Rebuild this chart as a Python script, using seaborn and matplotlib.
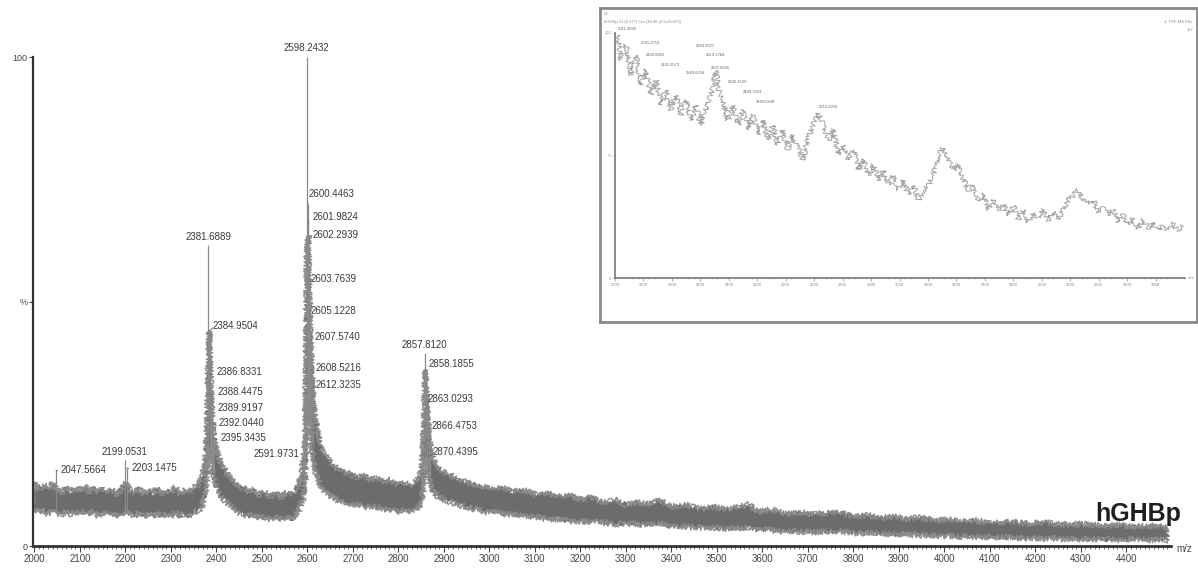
import numpy as np
import pandas as pd
import matplotlib
matplotlib.use("Agg")
import matplotlib.pyplot as plt
import seaborn as sns
from matplotlib.ticker import MultipleLocator

# ---------------- data ----------------
band_mz = [2000, 2010, 2020, 2030, 2040, 2050, 2060, 2070, 2080, 2090, 2100, 2110, 2120, 2130,
           2140, 2150, 2160, 2170, 2180, 2190, 2200, 2210, 2220, 2230, 2240, 2250, 2260, 2270,
           2280, 2290, 2300, 2310, 2320, 2330, 2340, 2350, 2360, 2368, 2374, 2378, 2381, 2384,
           2387, 2390, 2394, 2398, 2404, 2412, 2422, 2434, 2446, 2458, 2470, 2482, 2494, 2506,
           2518, 2530, 2542, 2554, 2566, 2574, 2582, 2588, 2593, 2596, 2599, 2602, 2604, 2606,
           2609, 2612, 2616, 2621, 2628, 2636, 2646, 2658, 2670, 2684, 2698, 2712, 2726, 2740,
           2754, 2768, 2782, 2796, 2810, 2824, 2836, 2846, 2852, 2856, 2859, 2863, 2867, 2871,
           2878, 2888, 2900, 2915, 2930, 2950, 2970, 2990, 3010, 3030, 3050, 3075, 3100, 3125,
           3150, 3175, 3200, 3225, 3250, 3275, 3300, 3325, 3350, 3375, 3400, 3430, 3460, 3490,
           3520, 3550, 3570, 3590, 3620, 3650, 3680, 3710, 3740, 3770, 3800, 3830, 3860, 3890,
           3920, 3950, 3980, 4010, 4040, 4070, 4100, 4140, 4180, 4220, 4260, 4300, 4340, 4380,
           4420, 4460, 4490]
band_hi = [13.0, 11.5, 12.5, 11.5, 13.0, 11.5, 11.0, 12.0, 11.0, 12.0, 11.0, 12.5, 11.0, 12.0,
           11.0, 12.0, 11.0, 11.5, 10.5, 11.5, 13.0, 11.5, 11.0, 12.0, 10.5, 11.5, 10.5, 12.0,
           10.5, 11.5, 11.0, 12.0, 10.5, 11.5, 11.0, 12.0, 12.5, 14.0, 17.0, 22.0, 30.0, 44.0,
           35.0, 28.0, 23.0, 20.5, 18.5, 16.5, 15.0, 13.5, 12.5, 12.0, 11.0, 11.5, 10.5, 11.0,
           10.0, 11.0, 10.0, 11.0, 10.5, 11.5, 13.0, 15.5, 19.0, 26.0, 60.0, 63.5, 52.0, 45.0,
           37.0, 32.0, 27.0, 24.0, 21.0, 19.0, 17.5, 16.5, 15.5, 15.0, 14.5, 14.0, 14.5, 13.5,
           14.0, 13.0, 13.5, 12.5, 13.0, 12.5, 13.0, 14.0, 17.0, 24.0, 36.0, 29.0, 24.0, 19.5,
           17.5, 16.0, 15.0, 14.5, 13.5, 13.0, 12.5, 12.0, 11.5, 12.0, 11.0, 11.5, 10.5, 11.0,
           10.0, 10.5, 9.5, 10.0, 9.0, 9.5, 8.5, 9.0, 8.5, 9.5, 8.0, 8.5, 7.5, 8.0,
           7.5, 8.0, 8.5, 7.0, 7.5, 6.5, 7.0, 6.5, 6.8, 7.0, 6.0, 6.3, 5.8, 6.0,
           5.5, 5.8, 5.2, 5.4, 5.0, 5.2, 4.8, 5.0, 4.6, 4.8, 4.4, 4.5, 4.2, 4.3,
           4.0, 4.1, 3.8]
band_lo = [7.5, 7.0, 7.5, 6.5, 7.5, 6.5, 6.5, 7.0, 6.5, 7.0, 6.5, 7.0, 6.5, 7.0,
           6.0, 7.0, 6.5, 7.0, 6.0, 6.5, 7.0, 6.5, 6.0, 7.0, 6.0, 6.5, 6.0, 7.0,
           6.0, 6.5, 6.0, 7.0, 6.0, 6.5, 6.0, 7.0, 7.0, 8.0, 10.0, 12.0, 16.0, 20.0,
           18.0, 16.0, 14.0, 12.5, 11.0, 10.0, 9.0, 8.0, 7.0, 6.5, 6.0, 6.5, 5.5, 6.0,
           5.5, 6.0, 5.5, 6.0, 5.5, 6.5, 7.5, 9.0, 11.0, 14.0, 28.0, 30.0, 27.0, 24.0,
           20.0, 18.0, 16.0, 14.0, 12.5, 11.5, 10.5, 10.0, 9.0, 9.0, 8.5, 8.5, 8.0, 8.0,
           8.0, 7.5, 7.5, 7.0, 7.5, 7.0, 7.5, 8.0, 9.5, 12.0, 18.0, 16.0, 14.0, 12.0,
           11.0, 10.0, 9.5, 9.0, 8.5, 8.0, 7.5, 7.0, 7.0, 6.5, 6.5, 6.0, 6.0, 5.5,
           5.5, 5.0, 5.0, 5.0, 4.8, 4.5, 4.5, 4.5, 4.3, 4.5, 4.0, 4.0, 3.8, 3.8,
           3.5, 3.6, 3.8, 3.3, 3.3, 3.0, 3.0, 2.9, 2.9, 3.0, 2.7, 2.6, 2.5, 2.4,
           2.3, 2.2, 2.1, 2.0, 1.9, 1.9, 1.8, 1.7, 1.6, 1.6, 1.5, 1.4, 1.4, 1.3,
           1.3, 1.2, 1.2]

peak_mz = [2047.5664, 2199.0531, 2203.1475, 2381.6889, 2384.9504, 2386.8331, 2388.4475,
           2389.9197, 2392.0440, 2395.3435, 2591.9731, 2598.2432, 2600.4463, 2601.9824,
           2602.2939, 2603.7639, 2605.1228, 2607.5740, 2608.5216, 2612.3235, 2857.8120,
           2858.1855, 2863.0293, 2866.4753, 2870.4395]
peak_int = [15.5, 17.5, 16.0, 61.5, 44.0, 35.0, 31.0, 28.0, 25.0, 22.0, 17.5, 100.0, 70.0,
            66.0, 62.5, 54.0, 47.5, 42.0, 36.0, 32.5, 39.5, 36.0, 29.0, 24.0, 18.5]
peak_lab = [f"{m:.4f}" for m in peak_mz]

# label layout: kind ('t' centred above, 'r' right of stick, 'l' left of stick) and pixel offsets
label_kind = ['r', 't', 'r', 't', 'r', 'r', 'r', 'r', 'r', 'r', 'l', 't', 'r', 'r',
              'r', 'r', 'r', 'r', 'r', 'r', 't', 'r', 'r', 'r', 'r']
label_off = [(5, 0), (0, 3), (5, 0), (0, 3), (3, 5), (6, 3), (6, 2), (6, 1), (6, 1), (6, 0),
             (-4, 6), (0, 4), (1, 10), (4, 6), (4, 5), (1, 3), (1, 3), (4, 4), (4, 2), (3, 2),
             (0, 3), (4, 6), (1, 5), (3, 3), (2, 4)]

main_xticks = list(range(2000, 4401, 100))

# inset spectrum (zoomed trace)
inset_mz = [2011, 2021, 2039, 2056, 2074, 2091, 2109, 2126, 2144, 2161, 2179, 2196, 2214, 2232,
            2249, 2267, 2284, 2302, 2319, 2337, 2354, 2365, 2379, 2396, 2414, 2432, 2449, 2467,
            2484, 2502, 2519, 2537, 2554, 2572, 2589, 2607, 2625, 2642, 2660, 2677, 2695, 2716,
            2733, 2751, 2768, 2786, 2804, 2821, 2839, 2856, 2874, 2891, 2909, 2926, 2944, 2961,
            2979, 2996, 3014, 3032, 3049, 3067, 3084, 3102, 3119, 3137, 3154, 3172, 3189, 3207,
            3225, 3242, 3260, 3277, 3295, 3312, 3330, 3347, 3365, 3382, 3400, 3418, 3435, 3453,
            3470, 3488, 3505, 3523, 3540, 3558, 3575, 3593, 3611, 3628, 3646, 3663, 3681, 3698,
            3716, 3733, 3751, 3768, 3786, 3804, 3821, 3839, 3856, 3874, 3891, 3909, 3926, 3944,
            3961, 3979, 3996]
inset_int = [99.2, 89.0, 95.1, 82.9, 91.0, 78.8, 84.9, 74.7, 80.8, 70.6, 76.7, 68.6, 74.7, 66.5,
             72.7, 64.5, 70.6, 62.4, 68.6, 74.7, 84.9, 76.7, 72.7, 64.5, 70.6, 62.4, 68.6, 60.4,
             66.5, 58.4, 64.5, 56.3, 62.4, 54.3, 60.4, 52.2, 58.4, 54.3, 48.2, 56.3, 62.4, 67.3,
             62.4, 56.3, 60.4, 50.2, 54.3, 48.2, 52.2, 44.1, 48.2, 42.0, 46.1, 40.0, 44.1, 38.0,
             42.0, 35.9, 40.0, 33.9, 38.0, 31.8, 35.9, 38.0, 42.0, 50.2, 53.1, 48.2, 44.1, 46.1,
             40.0, 35.9, 38.0, 31.8, 33.9, 27.8, 31.8, 27.8, 29.8, 25.7, 29.8, 23.7, 27.8, 22.9,
             26.9, 24.5, 27.8, 23.7, 26.9, 23.7, 27.8, 31.8, 33.9, 35.9, 31.8, 29.8, 31.8, 26.9,
             28.6, 25.7, 27.8, 22.9, 25.7, 21.6, 24.5, 20.4, 23.7, 20.4, 22.9, 19.6, 21.6, 19.6,
             22.0, 19.6, 21.2]
inset_lab_mz = [2011.4930, 2091.2716, 2109.8452, 2161.5573, 2249.6218, 2284.3071, 2319.1784,
                2337.8326, 2396.1529, 2449.7603, 2493.5648, 2716.2204]
inset_lab_int = [101, 95, 90, 86, 83, 94, 90, 85, 79, 75, 71, 69]
inset_xticks = list(range(2000, 3901, 100))

# ---------------- drawing ----------------
sns.set_style("ticks")
plt.rcParams['font.family'] = ['Liberation Sans', 'DejaVu Sans']

W, H = 1198, 569
fig = plt.figure(figsize=(W / 100, H / 100), dpi=100)


def rect(x0, y0, x1, y1):
    return [x0 / W, 1 - y1 / H, (x1 - x0) / W, (y1 - y0) / H]


ax = fig.add_axes(rect(33, 57, 1171, 546))
ax.set_xlim(1997, 4498)
ax.set_ylim(0, 100)

# noise band of the spectrum (rendered with a jittered outline for a noisy look)
poly = ax.fill(band_mz + band_mz[::-1], band_hi + band_lo[::-1], color='#6c6c6c', lw=0.8,
               ec='#7a7a7a', zorder=2)[0]
poly.set_sketch_params(scale=2.2, length=1.3, randomness=2.5)
l_hi = sns.lineplot(x=band_mz, y=band_hi, ax=ax, color='#8c8c8c', lw=1.0, zorder=2,
                    estimator=None).lines[-1]
l_hi.set_sketch_params(scale=3.0, length=1.2, randomness=3)
l_lo = sns.lineplot(x=band_mz, y=band_lo, ax=ax, color='#8c8c8c', lw=1.0, zorder=2,
                    estimator=None).lines[-1]
l_lo.set_sketch_params(scale=3.0, length=1.2, randomness=3)

# peak sticks start at the noise floor
stick_base = np.interp(peak_mz, band_mz, band_lo)
ax.vlines(peak_mz, stick_base, peak_int, color='#8a8a8a', lw=0.9, zorder=3)

for m, v, lab, kind, (dx, dy) in zip(peak_mz, peak_int, peak_lab, label_kind, label_off):
    if kind == 't':
        ax.annotate(lab, xy=(m, v), xytext=(dx, dy), textcoords='offset pixels',
                    ha='center', va='bottom', fontsize=7, color='#3a3a3a',
                    annotation_clip=False)
    else:
        ha = 'left' if kind == 'r' else 'right'
        rp = (0, 0.3) if kind == 'r' else (1, 0.3)
        ax.annotate(lab, xy=(m, v), xytext=(dx, dy), textcoords='offset pixels',
                    ha=ha, va='center', fontsize=7, color='#3a3a3a',
                    annotation_clip=False,
                    arrowprops=dict(arrowstyle='-', color='#666666', lw=0.6,
                                    shrinkA=0, shrinkB=0, relpos=rp))

for s in ['top', 'right']:
    ax.spines[s].set_visible(False)
ax.spines['left'].set_color('#333333')
ax.spines['left'].set_linewidth(1.6)
ax.spines['bottom'].set_color('#333333')
ax.spines['bottom'].set_linewidth(2.0)

ax.set_xticks(main_xticks)
ax.set_xticklabels([str(t) for t in main_xticks])
ax.xaxis.set_minor_locator(MultipleLocator(10))
ax.tick_params(axis='x', which='major', length=4, width=0.8, color='#444444',
               labelsize=7, labelcolor='#444444', pad=2)
ax.tick_params(axis='x', which='minor', length=2.2, width=0.6, color='#555555')
ax.set_yticks([0, 50, 100])
ax.set_yticklabels(['0', '%', '100'])
ax.tick_params(axis='y', which='major', length=3, width=0.8, color='#444444',
               labelsize=6.5, labelcolor='#444444', pad=1)
ax.set_xlabel('')
ax.set_ylabel('')
fig.text(1176 / W, 1 - 549 / H, 'm/z', fontsize=7, color='#444444', ha='left', va='center')
fig.text(1181 / W, 1 - 514 / H, 'hGHBp', fontsize=18, fontweight='bold', color='#1e1e1e',
         ha='right', va='center')

# ---------------- inset ----------------
frame = fig.add_axes(rect(600, 8, 1197, 322), zorder=3)
frame.set_xticks([])
frame.set_yticks([])
for s in frame.spines.values():
    s.set_color('#8a8a8a')
    s.set_linewidth(2.0)
frame.set_facecolor('white')

ins = fig.add_axes(rect(615, 33, 1185, 278), zorder=4)
ins.patch.set_alpha(0)
ins.set_xlim(2000, 4003)
ins.set_ylim(0, 100)
tr = sns.lineplot(x=inset_mz, y=inset_int, ax=ins, color='#a2a2a2', lw=0.7,
                  estimator=None).lines[-1]
tr.set_sketch_params(scale=2.6, length=0.8, randomness=2)
for m, v in zip(inset_lab_mz, inset_lab_int):
    ins.text(m, v, f"{m:.4f}", fontsize=3, color='#666666', ha='left', va='bottom', clip_on=False)
for s in ['top', 'right']:
    ins.spines[s].set_visible(False)
ins.spines['left'].set_color('#777777')
ins.spines['left'].set_linewidth(1.2)
ins.spines['bottom'].set_color('#777777')
ins.spines['bottom'].set_linewidth(1.2)
ins.set_xticks(inset_xticks)
ins.set_xticklabels([str(t) for t in inset_xticks])
ins.xaxis.set_minor_locator(MultipleLocator(20))
ins.tick_params(axis='x', which='major', length=2, width=0.5, color='#888888',
                labelsize=3, labelcolor='#888888', pad=1.5)
ins.tick_params(axis='x', which='minor', length=1, width=0.4, color='#999999')
ins.set_yticks([0, 50, 100])
ins.set_yticklabels(['0', '%', '100'])
ins.tick_params(axis='y', length=1.5, width=0.5, color='#888888', labelsize=3,
                labelcolor='#888888', pad=1)
ins.set_xlabel('')
ins.set_ylabel('')
fig.text(604 / W, 1 - 14 / H, '23', fontsize=3, color='#888888', ha='left', va='center', zorder=5)
fig.text(604 / W, 1 - 22 / H, 'hGHBp 21 (0.377) Cm (14:46-(2:5+63:67))', fontsize=3,
         color='#888888', ha='left', va='center', zorder=5)
fig.text(1193 / W, 1 - 22 / H, '1: TOF MS ES+', fontsize=3, color='#888888', ha='right',
         va='center', zorder=5)
fig.text(1193 / W, 1 - 30 / H, '167', fontsize=3, color='#888888', ha='right', va='center',
         zorder=5)
fig.text(1188 / W, 1 - 278 / H, 'm/z', fontsize=3, color='#888888', ha='left', va='center',
         zorder=5)

fig.savefig('out.png', dpi=100, facecolor='white')
